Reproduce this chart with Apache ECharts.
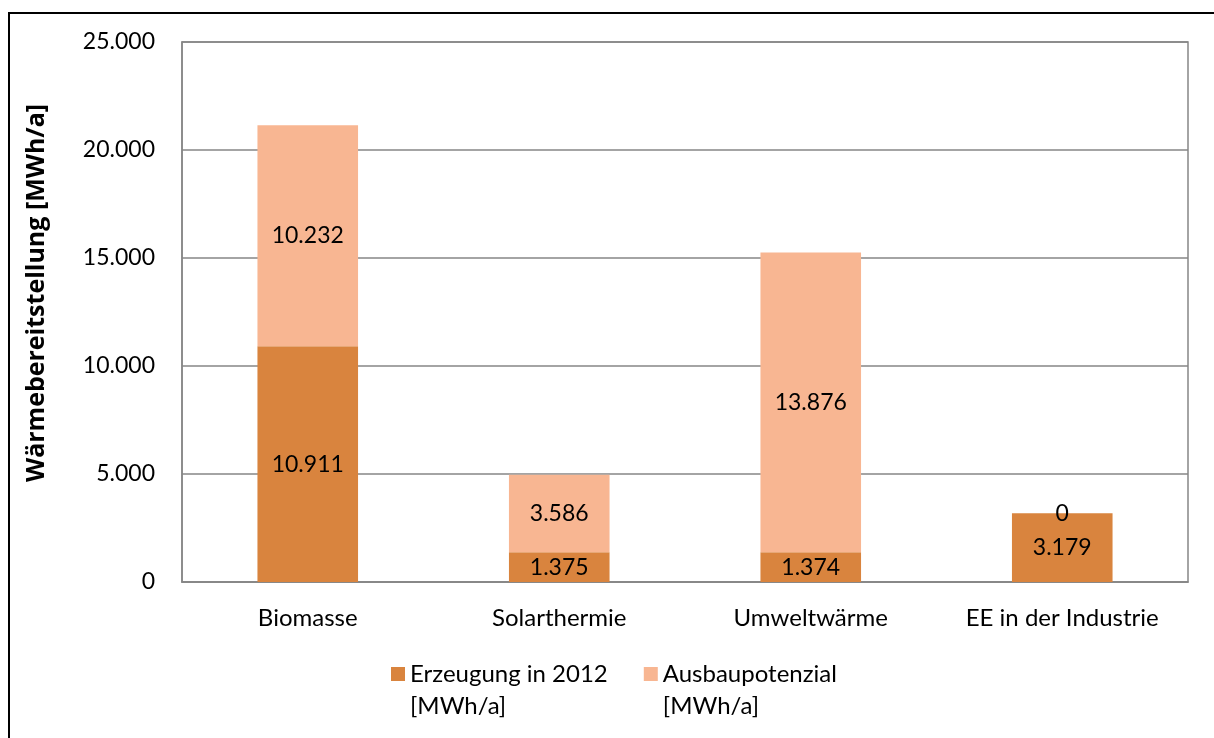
<!DOCTYPE html>
<html>
<head>
<meta charset="utf-8">
<script src="https://cdn.jsdelivr.net/npm/echarts@6/dist/echarts.min.js"></script>
<style>
    html, body { margin: 0; padding: 0; background: #fff; overflow: hidden; }
    .frame {
        position: absolute; left: 8px; top: 12px;
        width: 1300px; height: 800px;
        border: 2px solid #000;
    }
    #main { position: absolute; left: 0; top: 0; width: 1214px; height: 738px; }
</style>
</head>
<body>
<div class="frame"></div>
<div id="main"></div>
<script>
    // Wärmebereitstellung je Quelle
    const categories = ['Biomasse', 'Solarthermie', 'Umweltwärme', 'EE in der Industrie'];
    const erzeugung2012 = [10911, 1375, 1374, 3179];
    const ausbaupotenzial = [10232, 3586, 13876, 0];
    const yTicks = [0, 5000, 10000, 15000, 20000, 25000];

    const dark = '#D9843E';
    const light = '#F8B692';
    const font = 'Lato, "Liberation Sans", sans-serif';

    function fmt(v) {
        return String(v).replace(/\B(?=(\d{3})+(?!\d))/g, '.');
    }

    let myChart = echarts.init(document.getElementById('main'));
    myChart.setOption({
        animation: false,
        textStyle: { fontFamily: font, color: '#000' },
        grid: {
            left: 182, right: 26, top: 42, bottom: 156,
            show: true, borderColor: '#868686', borderWidth: 1.5
        },
        legend: {
            left: 386, top: 621,
            itemWidth: 14, itemHeight: 14, itemGap: 36,
            icon: 'rect',
            data: ['Erzeugung in 2012\n[MWh/a]', 'Ausbaupotenzial\n[MWh/a]'],
            // leere erste Zeile, damit das Symbol auf Höhe der ersten Textzeile sitzt
            formatter: name => '\n' + name,
            textStyle: {
                fontFamily: font, fontSize: 24, color: '#000', lineHeight: 32
            }
        },
        xAxis: {
            type: 'category',
            data: categories,
            axisTick: { show: false },
            axisLine: { lineStyle: { color: '#868686', width: 1.5 } },
            axisLabel: { fontSize: 24, color: '#000', margin: 24 }
        },
        yAxis: {
            type: 'value',
            min: yTicks[0], max: yTicks[yTicks.length - 1], interval: 5000,
            name: 'Wärmebereitstellung [MWh/a]',
            nameLocation: 'middle', nameGap: 133,
            nameTextStyle: {
                fontFamily: '"Open Sans", sans-serif',
                fontSize: 25, fontWeight: 'bold', color: '#000',
                padding: [0, 0, 0, 38]
            },
            axisLine: { show: true, lineStyle: { color: '#868686', width: 1.5 } },
            axisTick: { show: false },
            splitLine: { lineStyle: { color: '#868686', width: 1.5 } },
            axisLabel: { fontSize: 23, color: '#000', margin: 27, formatter: fmt }
        },
        series: [
            {
                type: 'bar', name: 'Erzeugung in 2012\n[MWh/a]', stack: 'w',
                data: erzeugung2012, barWidth: '40%',
                itemStyle: { color: dark },
                label: { show: true, position: 'inside', fontSize: 23, color: '#000',
                    formatter: p => fmt(p.value) }
            },
            {
                type: 'bar', name: 'Ausbaupotenzial\n[MWh/a]', stack: 'w',
                data: ausbaupotenzial, barWidth: '40%',
                itemStyle: { color: light },
                label: { show: true, position: 'inside', fontSize: 23, color: '#000',
                    formatter: p => fmt(p.value) }
            }
        ]
    });
</script>
</body>
</html>
